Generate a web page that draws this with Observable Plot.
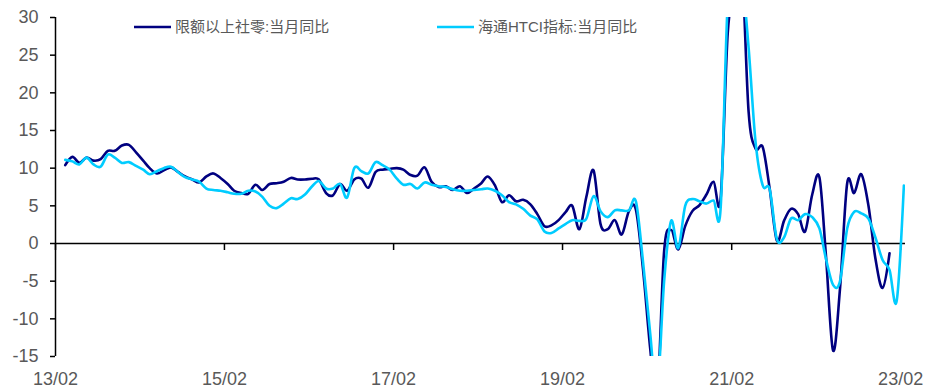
<!DOCTYPE html>
<html>
<head>
<meta charset="utf-8">
<script src="https://cdn.jsdelivr.net/npm/d3@7"></script>
<script src="https://cdn.jsdelivr.net/npm/@observablehq/plot@0.6"></script>
<style>
  html, body { margin: 0; padding: 0; background: #fff; }
</style>
</head>
<body>
<div id="chart"></div>
<script>
// Monthly year-on-year growth (%), first observation March 2013
const firstMonth = "2013-03";

// 限额以上社零:当月同比 (through 2022-12)
const retailAboveQuota = [
  10.4, 11.5, 10.7, 11.4, 11.0, 11.2, 12.3, 12.3, 13.0, 13.1,
  12.1, 11.0, 10.0, 9.3, 9.7, 10.1, 9.5, 8.9, 8.5, 8.1,
  8.9, 9.3, 8.7, 7.9, 7.0, 6.7, 6.6, 7.8, 7.1, 7.9,
  8.0, 8.2, 8.7, 8.5, 8.5, 8.6, 8.5, 6.7, 6.4, 7.9,
  7.0, 8.5, 8.6, 7.4, 9.5, 9.8, 9.9, 10.0, 9.8, 9.1,
  9.0, 10.1, 8.2, 7.5, 7.6, 7.1, 7.6, 6.7, 7.3, 8.0,
  8.9, 7.7, 5.5, 6.4, 5.6, 5.8, 5.2, 3.9, 2.3, 2.4,
  3.1, 4.2, 5.0, 1.9, 6.2, 9.7, 2.6, 1.9, 3.1, 1.2,
  4.3, 4.5, -3.5, -14.0, -21.0, -1.0, 1.8, -0.8, 2.3, 4.3,
  5.1, 6.5, 8.2, 5.9, 28.0, 34.0, 38.0, 17.5, 12.6, 12.8,
  7.3, 0.4, 3.0, 4.6, 3.9, 1.6, 6.5, 8.8, -1.5, -14.2,
  -6.0, 8.0, 6.7, 9.2, 5.0, -2.0, -5.9, -1.3
];

// 海通HTCI指标:当月同比 (through 2023-02)
const htciIndex = [
  11.1, 10.9, 10.5, 11.4, 10.5, 10.2, 11.8, 11.4, 10.7, 10.8,
  10.3, 9.8, 9.2, 9.6, 10.0, 10.2, 9.5, 8.8, 8.5, 8.2,
  7.3, 7.1, 7.0, 6.8, 6.6, 6.6, 7.0, 6.9, 6.2, 5.0,
  4.7, 5.3, 6.0, 5.9, 6.5, 7.6, 8.3, 7.3, 7.3, 7.9,
  6.1, 10.0, 9.6, 9.3, 10.8, 10.4, 9.8, 8.6, 7.8, 7.9,
  7.3, 8.1, 7.8, 7.6, 7.5, 7.2, 7.0, 7.0, 7.1, 7.2,
  7.3, 7.0, 6.4, 5.5, 5.2, 4.6, 3.7, 3.2, 1.6, 1.4,
  2.0, 2.6, 3.1, 3.0, 3.3, 6.3, 4.3, 3.5, 4.4, 4.4,
  4.4, 5.6, -2.5, -12.0, -20.0, -5.0, 3.0, -0.6, 5.0, 5.9,
  5.6, 5.3, 5.7, 4.6, 32.0, 36.0, 36.0, 26.0, 13.5, 7.7,
  7.2, 0.6, 0.8, 3.3, 3.1, 3.9, 3.5, 2.0, -2.0, -5.5,
  -5.0, 2.0, 4.2, 4.0, 3.3, 0.8, -2.2, -3.5, -7.6, 7.7
];

const seriesNames = ["限额以上社零:当月同比", "海通HTCI指标:当月同比"];
const seriesColors = ["#000080", "#00CCFF"];
const yTicks = [-15, -10, -5, 0, 5, 10, 15, 20, 25, 30];
const xTickLabels = ["13/02", "15/02", "17/02", "19/02", "21/02", "23/02"];

// Observations sit mid-month; labelled ticks fall on the first of the month
const [startYear, startMon] = firstMonth.split("-").map(Number);
const monthDate = (i) => new Date(Date.UTC(startYear, startMon - 1 + i, 15));
const labelDate = (s) => {
  const [yy, mm] = s.split("/").map(Number);
  return new Date(Date.UTC(2000 + yy, mm - 1, 1));
};
const xTicks = xTickLabels.map(labelDate);
const xDomain = [xTicks[0], new Date(Date.UTC(2023, 1, 22))];

const rows = [
  ...retailAboveQuota.map((v, i) => ({date: monthDate(i), value: v, series: seriesNames[0]})),
  ...htciIndex.map((v, i) => ({date: monthDate(i), value: v, series: seriesNames[1]}))
];

const textGray = "#595959";
const latinFont = "'Liberation Sans', Arial, sans-serif";

const chart = Plot.plot({
  width: 930,
  height: 389,
  marginLeft: 55,
  marginRight: 25,
  marginTop: 17,
  marginBottom: 33,
  style: {fontFamily: latinFont, background: "#fff", overflow: "visible"},
  x: {type: "utc", domain: xDomain},
  y: {domain: [-15, 30]},
  color: {domain: seriesNames, range: seriesColors},
  marks: [
    // value axis
    Plot.ruleX([xDomain[0]], {y1: -15, y2: 30, stroke: "#000", strokeWidth: 1.5}),
    Plot.axisY({
      ticks: yTicks, tickSize: 5, tickPadding: 12, tickFormat: (d) => String(d),
      fontSize: 18, fill: textGray, stroke: "#000", strokeWidth: 1.5, label: null
    }),
    // category axis crossing at zero, labels along the bottom
    Plot.ruleY([0], {stroke: "#000", strokeWidth: 1.5}),
    Plot.ruleX(xTicks, {x: (d) => d, y1: 0, y2: 0, insetBottom: -7, stroke: "#000", strokeWidth: 1.5}),
    Plot.axisX({
      ticks: xTicks, tickFormat: d3.utcFormat("%y/%m"), tickSize: 0, tickPadding: 16,
      fontSize: 18, fill: textGray, label: null
    }),
    // the two series, smoothed like the source workbook
    Plot.line(rows, {
      x: "date", y: "value", z: "series", stroke: "series",
      curve: "cardinal", strokeWidth: 2.6, clip: true
    })
  ]
});

document.getElementById("chart").appendChild(chart);

// Legend inside the top of the plot area, placed beneath the lines
const svg = d3.select(chart);
const legend = svg.insert("g", ":first-child")
  .attr("font-family", "'Liberation Sans', 'Noto Sans CJK SC', sans-serif")
  .attr("font-size", 15)
  .attr("text-anchor", "start")
  .attr("fill", textGray);
const legendItems = [
  {name: seriesNames[0], color: seriesColors[0], x: 134},
  {name: seriesNames[1], color: seriesColors[1], x: 437}
];
legendItems.forEach((d) => {
  legend.append("line")
    .attr("x1", d.x).attr("x2", d.x + 37)
    .attr("y1", 27).attr("y2", 27)
    .attr("stroke", d.color).attr("stroke-width", 2.6);
  legend.append("text")
    .attr("x", d.x + 41).attr("y", 27)
    .attr("dy", "0.35em")
    .attr("text-anchor", "start")
    .text(d.name);
});
</script>
</body>
</html>
